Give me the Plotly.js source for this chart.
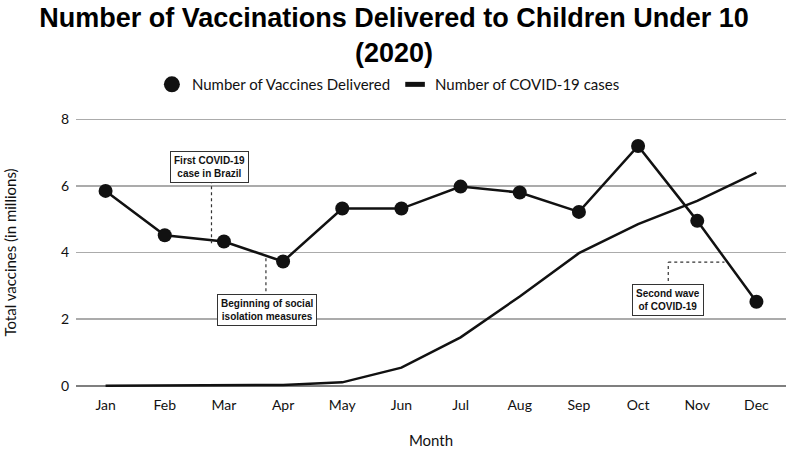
<!DOCTYPE html>
<html>
<head>
<meta charset="utf-8">
<script src="https://cdn.plot.ly/plotly-3.0.1.min.js"></script>
<style>
  html, body { margin: 0; padding: 0; background: #fff; }
  #chart { width: 788px; height: 449px; }
</style>
</head>
<body>
<div id="chart"></div>
<script>
// --- DATA ---
const months = ['Jan', 'Feb', 'Mar', 'Apr', 'May', 'Jun', 'Jul', 'Aug', 'Sep', 'Oct', 'Nov', 'Dec'];
const vaccinesDelivered = [5.85, 4.52, 4.33, 3.73, 5.32, 5.32, 5.98, 5.80, 5.22, 7.20, 4.95, 2.52];
const covidCases = [0, 0, 0, 0.02, 0.10, 0.54, 1.45, 2.68, 3.98, 4.85, 5.55, 6.40];

const INK = '#111111';
const LABEL_FONT = 'Lato, "Open Sans", sans-serif';
const NOTE_FONT = { family: '"Liberation Sans", Arial, sans-serif', size: 10, color: INK, weight: 'bold' };

const vaccineTrace = {
    x: months,
    y: vaccinesDelivered,
    mode: 'lines+markers',
    name: 'Number of Vaccines Delivered',
    showlegend: false,
    line: { color: INK, width: 2.5 },
    marker: { color: INK, size: 14 }
};

const covidTrace = {
    x: months,
    y: covidCases,
    mode: 'lines',
    name: 'Number of COVID-19 cases',
    showlegend: false,
    line: { color: INK, width: 2.5 }
};

// legend-only entries so the keys look like the original (dot / short bar)
const vaccineKey = {
    x: [null], y: [null], mode: 'markers', name: 'Number of Vaccines Delivered',
    marker: { color: INK, size: 16 }
};
const covidKey = {
    x: [null], y: [null], mode: 'markers', name: 'Number of COVID-19 cases',
    marker: { symbol: 'line-ew', size: 14, line: { color: INK, width: 5 } }
};

const dotted = { color: '#333', width: 1.2, dash: 'dot' };

const layout = {
    width: 788,
    height: 449,
    margin: { l: 76, r: 2, t: 116, b: 60 },
    paper_bgcolor: '#ffffff',
    plot_bgcolor: '#ffffff',
    title: {
        text: 'Number of Vaccinations Delivered to Children Under 10<br>(2020)',
        font: { family: '"Liberation Sans", Arial, sans-serif', size: 27, color: '#000', weight: 'bold' },
        x: 0.5,
        xanchor: 'center',
        yref: 'container',
        y: 0.94,
        yanchor: 'top'
    },
    legend: {
        orientation: 'h',
        x: 0.44,
        xanchor: 'center',
        y: 1.115,
        yanchor: 'middle',
        font: { family: LABEL_FONT, size: 15, color: INK },
        itemwidth: 30
    },
    xaxis: {
        type: 'category',
        range: [-0.5, 11.5],
        showgrid: false,
        showline: false,
        zeroline: false,
        ticks: '',
        ticklabelstandoff: 6,
        tickfont: { family: LABEL_FONT, size: 14, color: INK },
        title: { text: 'Month', font: { family: LABEL_FONT, size: 15, color: INK }, standoff: 26 }
    },
    yaxis: {
        range: [-0.1, 8.1],
        tickvals: [0, 2, 4, 6, 8],
        showgrid: true,
        gridcolor: '#ababab',
        gridwidth: 1.5,
        zeroline: true,
        zerolinecolor: '#7f7f7f',
        zerolinewidth: 2,
        showline: false,
        ticks: '',
        ticklabelstandoff: 6,
        tickfont: { family: LABEL_FONT, size: 14, color: INK },
        title: { text: 'Total vaccines (in millions)', font: { family: LABEL_FONT, size: 15, color: INK }, standoff: 40 }
    },
    shapes: [
        { type: 'line', xref: 'x', yref: 'y', x0: 1.79, x1: 1.79, y0: 6.17, y1: 4.19, line: dotted },
        { type: 'line', xref: 'x', yref: 'y', x0: 2.71, x1: 2.71, y0: 3.83, y1: 2.66, line: dotted },
        { type: 'line', xref: 'x', yref: 'y', x0: 9.51, x1: 9.51, y0: 2.96, y1: 3.71, line: dotted },
        { type: 'line', xref: 'x', yref: 'y', x0: 9.51, x1: 10.46, y0: 3.71, y1: 3.71, line: dotted }
    ],
    annotations: [
        {
            x: 1.75, y: 6.56, xref: 'x', yref: 'y', showarrow: false,
            text: 'First COVID-19<br>case in Brazil', font: NOTE_FONT,
            bgcolor: '#fff', bordercolor: '#333', borderwidth: 1, borderpad: 3
        },
        {
            x: 2.73, y: 2.28, xref: 'x', yref: 'y', showarrow: false,
            text: 'Beginning of social<br>isolation measures', font: NOTE_FONT,
            bgcolor: '#fff', bordercolor: '#333', borderwidth: 1, borderpad: 3
        },
        {
            x: 9.51, y: 2.58, xref: 'x', yref: 'y', showarrow: false,
            text: 'Second wave<br>of COVID-19', font: NOTE_FONT,
            bgcolor: '#fff', bordercolor: '#333', borderwidth: 1, borderpad: 3
        }
    ]
};

Plotly.newPlot('chart', [covidTrace, vaccineTrace, vaccineKey, covidKey], layout, { displayModeBar: false, staticPlot: true });
</script>
</body>
</html>
